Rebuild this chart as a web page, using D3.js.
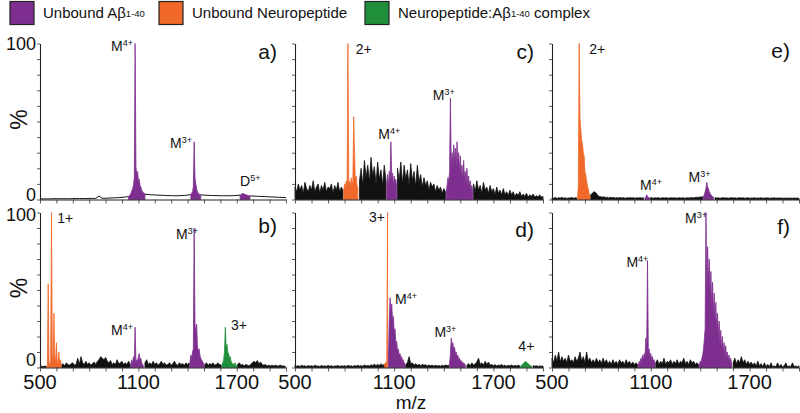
<!DOCTYPE html>
<html><head><meta charset="utf-8">
<script src="https://cdn.jsdelivr.net/npm/d3@7"></script>
<style>
body{margin:0;background:#fff}
svg{display:block}
text{font-family:"Liberation Sans",Arial,sans-serif;fill:#111}
</style>
</head><body>
<svg id="chart" width="800" height="413"></svg>
<script>
// ---------------- DATA ----------------
const mzDomain = [500, 2000];
const pctDomain = [0, 100];
const mzTicks = [500,600,700,800,900,1000,1100,1200,1300,1400,1500,1600,1700,1800,1900,2000];
const mzTickLabels = [500, 1100, 1700];
const pctTicks = [0,10,20,30,40,50,60,70,80,90,100];
const pctTickLabels = [0, 100];
const xAxisTitle = "m/z";
const yAxisTitle = "%";

const legendItems = [
  {kind: "abeta",   main: "Unbound A\u03B2", sub: "1-40", rest: ""},
  {kind: "neuro",   main: "Unbound Neuropeptide", sub: "", rest: ""},
  {kind: "complex", main: "Neuropeptide:A\u03B2", sub: "1-40", rest: " complex"}
];

// spectra: segments {kind, from (m/z), step (m/z), vals (% intensity)}
const panelA = [
  {kind:"bg", from:500, step:20, vals:[0.4,0.4,0.4,0.4,0.5,0.5,0.5,0.5,0.5,0.5,0.6,0.6,0.6,0.6,0.6,0.7,0.7,0.7,2.2,0.8,0.8,0.9,1.0,1.1,1.2,1.4,1.6,1.9]},
  {kind:"abeta", from:1040, step:5, vals:[2,2.5,3,4,5.5,7,9,14,100,21,16,18,12,13,9,8,6,5,4.5,4,3.6]},
  {kind:"bg", from:1140, step:20, vals:[3.4,3.2,3.0,2.9,2.8,2.7,2.6,2.5,2.5,2.4,2.4,2.5,2.6,2.8,3.2]},
  {kind:"abeta", from:1420, step:5, vals:[3.5,4,5,8,37,14,10,7,5,4,3.5,3.2,3.0]},
  {kind:"bg", from:1480, step:20, vals:[3.0,2.8,2.7,2.6,2.5,2.5,2.4,2.4,2.4,2.4,2.5,2.6,2.8]},
  {kind:"abeta", from:1720, step:5, vals:[2.8,3.2,3.6,3.8,3.7,3.5,3.3,3.1,2.9,2.7,2.5,2.4,2.3]},
  {kind:"bg", from:1780, step:20, vals:[2.3,2.2,2.1,2.0,1.9,1.8,1.7,1.6,1.5,1.4,1.3,1.3]}
];
const panelB = [
  {kind:"bg", from:500, step:10, vals:[0.5,0.8,0.6,0.9,0.7]},
  {kind:"neuro", from:540, step:5, vals:[0.5,1,54,2,3,4,100,8,5,35,6,4,16,4,3,10,2,5,1]},
  {kind:"bg", from:630, step:10, vals:[1.5,2.5,1,3,2,1.5,2.5,3,1.5,2,6,2,7,3,2,4,2,3,1.5,2.5,3.5,2,4,5,7,6,5,6.5,4,3,4.5,2,3,2,5,2.5,3,4,2,3,2,4,2]},
  {kind:"abeta", from:1055, step:5, vals:[3,5,2,7,4,26,3,5,4,7,9,4,6,3,2,1.5]},
  {kind:"bg", from:1140, step:10, vals:[3,5,2,3,2,4,2,3,1.5,2.5,4,2,3,1.5,2,3,1.5,2.5,4,2,1.5,3,2,2.5,1.5,3,2,3]},
  {kind:"abeta", from:1415, step:5, vals:[4,8,6,10,12,90,28,22,28,14,10,12,8,6,5,4,3,2]},
  {kind:"bg", from:1505, step:10, vals:[2,3,1.5,2.5,2,3,1.5,2,3,2,1.5]},
  {kind:"complex", from:1610, step:5, vals:[2,3,5,10,26,13,15,10,9,6,7,4,3,2,2.5,1.5,3,1.5,1]},
  {kind:"bg", from:1705, step:10, vals:[2,3,1.5,2,1,2,1.5,1,2,3,4,3,4.5,2.5,3.5,2,1.5,2,1,1.5,1,1.5,1,1.5,1,1,1.5,1,1,0.8]}
];
const panelC = [
  {kind:"bg", from:500, step:10, vals:[8,5,10,6,9,4,11,7,5,9,6,12,5,8,10,4,9,6,11,5,8,7,10,4,9,6,11,5,8,6]},
  {kind:"neuro", from:795, step:5, vals:[6,10,8,12,9,100,10,12,8,14,10,12,53,30,12,15,9,7]},
  {kind:"bg", from:890, step:10, vals:[12,20,9,25,14,22,11,27,15,21,10,24,13,19,9,22,12]},
  {kind:"abeta", from:1055, step:5, vals:[10,16,8,18,12,37,14,17,9,15,11,13,8]},
  {kind:"bg", from:1120, step:10, vals:[20,12,24,10,22,13,19,9,23,12,18,8,22,11,16,8,14,9,12,6,11,8,10,5,9,6,8,4,7,5]},
  {kind:"abeta", from:1415, step:5, vals:[5,9,14,11,18,65,20,30,22,35,25,33,20,37,24,30,18,28,15,22,12,25,14,18,10,20,9,15,8,12,6,9,5]},
  {kind:"bg", from:1580, step:10, vals:[10,5,12,6,9,4,11,6,8,4,9,5,7,3,8,4,6,3,7,3,5,2.5,6,3,5,2,4,2.5,5,2,3.5,2,4,1.5,3,2,3.5,1.5,2.5,1.5,3,1.5,2]}
];
const panelD = [
  {kind:"bg", from:500, step:10, vals:[1.5,0.8,1.2,0.7,1.4,0.9,1.1,0.6,1.3,0.8,1.2,0.7,1.5,0.9,1.0,0.6,1.3,0.8,1.1,0.7,1.4,0.8,1.2,0.6,1.0,0.9,1.3,0.7,1.1,0.8,1.2,0.7,1.4,0.9,1.1,0.6,1.3,0.8,1.5,0.9,1.2,0.8,1.6,1.0,1.3,0.9,1.8,1.1,2.2,1.2,2.0,1.3,2.5,1.5,2.0,1.5]},
  {kind:"neuro", from:1040, step:5, vals:[1.5,2.5,3.5,3,100]},
  {kind:"abeta", from:1065, step:5, vals:[6,30,45,36,41,30,33,22,25,15,17,10,12,8,9,6,7,4.5,5,3,2.5]},
  {kind:"bg", from:1170, step:10, vals:[2,3,7,2.5,3,1.5,2.5,1.5,2,1.2,2,1.5,1.8,1,1.6,1.2,1.5,0.9,1.4,1,1.3,0.8,1.5,1,1.6,1.2,1.5]},
  {kind:"abeta", from:1435, step:5, vals:[3,8,19,14,16,11,13,9,10,7,8,5,6,4,4.5,3,3.5,2.5,2.5,1.5]},
  {kind:"bg", from:1540, step:10, vals:[1.5,2.5,1.2,3,1.5,2.5,3.5,6,2,3,1.5,4,2,3.5,1.5,2,1.2,1.8,1,1.6,1.2,2,1,1.5,0.8,1.4,1,1.6,0.9,1.3,1,1.5,1]},
  {kind:"complex", from:1865, step:5, vals:[1,1.5,2,2.5,3,3.5,3.8,3.5,3,2.5,2,1.5,1.2,1]},
  {kind:"bg", from:1940, step:10, vals:[1.2,0.8,1.1,0.7,1.0,0.8,1.0]}
];
const panelE = [
  {kind:"bg", from:500, step:10, vals:[1.2,0.8,1.3,0.7,1.1,0.9,1.4,0.8,1.2,0.7,1.0,0.9,1.3,0.8,1.1,1.0]},
  {kind:"neuro", from:655, step:5, vals:[2,8,100,52,45,38,36,30,28,18,16,12,9,7,4,2.5]},
  {kind:"bg", from:735, step:10, vals:[3,4,5,4.5,3,2,1.8,1.5,1.8,1.2,1.5,1,1.4,1.1,1.3,0.9,1.2,1,1.3,0.9,1.2,0.8,1.1,1,1.3,0.9,1.2,0.8,1.1,1,1.2,0.9,1.1]},
  {kind:"abeta", from:1065, step:5, vals:[1.2,1.8,3,2,1.5,1.2]},
  {kind:"bg", from:1095, step:10, vals:[1.0,1.2,0.8,1.1,0.9,1.2,0.8,1.0,1.1,0.9,1.2,0.8,1.0,1.1,0.9,1.2,0.8,1.0,1.1,0.9,1.2,0.8,1.0,1.1,0.9,1.3,1.0,1.2,1.4,1.3,1.5,1.6,1.8]},
  {kind:"abeta", from:1420, step:5, vals:[2,3,5,7,11,8,7,5,4,3,2.5,2,1.5]},
  {kind:"bg", from:1490, step:10, vals:[1.2,0.9,1.1,0.8,1.0,1.2,0.9,1.1,0.8,1.0,1.2,0.9,1.1,0.8,1.0,1.2,0.9,1.1,0.8,1.0,1.1,0.8,1.0,0.9,1.1,0.8,1.0,0.9,1.1,0.8,1.0,0.9,1.1,0.8,1.0,0.9,1.1,0.8,1.0,0.9,1.0,0.8,0.9,0.8,1.0,0.8,0.9,0.8,1.0,0.8,0.9,0.8]}
];
const panelF = [
  {kind:"bg", from:500, step:10, vals:[6,3,8,4,10,3.5,7,4,6,3,8,4,5,3,7,4,6,10,4,7,3,10,4,6,3,5,3,6,3,5,2.5,6,3,5,2.5,4,2,5,2.5,4,2,5,3,4,2,5,2.5,4,2,3.5,2,3,2]},
  {kind:"abeta", from:1025, step:5, vals:[2,4,3,6,4,8,5,9,7,19,12,69,10,12,7,9,5,7,4,5,3]},
  {kind:"bg", from:1130, step:10, vals:[3,5,2,4,2.5,6,2,4,3,5,2,4,2.5,5,2,4,3,6,2.5,4,2,5,3,4,2,3,2]},
  {kind:"abeta", from:1395, step:5, vals:[2,4,3,6,8,12,18,25,100,45,78,55,70,48,62,40,55,35,48,30,42,25,35,20,30,16,24,12,20,10,16,8,14,6,10,5,8,4,6,3]},
  {kind:"bg", from:1600, step:10, vals:[3,6,2.5,5,3,7,3,5,2,4,2,3.5,1.5,3,1,4,1,2.5,0.5,3,0.5,2,0.5,3,0.5,1,0.5,3,0.5,2,0.5,1,3,0.5,1,0.5,3,0.5,1,0.5,1]}
];

// peak annotations: [main, superscript, m/z anchor, % level, anchor]
const labelsA = [["M","4+",1067,95,"end"],["M","3+",1427,33,"end"],["D","5+",1720,8.6,"start"]];
const labelsB = [["1+","",605,93,"start"],["M","4+",1067,21,"end"],["M","3+",1463,83,"end"],["3+","",1665,24,"start"]];
const labelsC = [["2+","",867,93,"start"],["M","4+",1004,38.5,"start"],["M","3+",1333,64,"start"]];
const labelsD = [["3+","",1044,93.6,"end"],["M","4+",1105,41,"start"],["M","3+",1343,20,"start"],["4+","",1851,10.6,"start"]];
const labelsE = [["2+","",726,93,"start"],["M","4+",1035,6.4,"start"],["M","3+",1329,11,"start"]];
const labelsF = [["M","4+",1085,65,"end"],["M","3+",1441,93,"end"]];

const panelLetters = ["a)","b)","c)","d)","e)","f)"];
const letterLevels = [90, 87, 90, 84, 91, 86];

// ---------------- LAYOUT / STYLE ----------------
const colors = {abeta:"#7d2e8e", neuro:"#f0692b", complex:"#1f8f3c", bg:"#111111"};
const cols = [[40,286],[295,543],[552,799]];
const rows = [[199.5,43.5],[367.5,212.5]];
const frames = [
  {data:panelA, labels:labelsA, col:0, row:0, bgLine:true},
  {data:panelB, labels:labelsB, col:0, row:1},
  {data:panelC, labels:labelsC, col:1, row:0},
  {data:panelD, labels:labelsD, col:1, row:1},
  {data:panelE, labels:labelsE, col:2, row:0},
  {data:panelF, labels:labelsF, col:2, row:1}
];
const drawOrder = {bg:0, neuro:1, abeta:2, complex:3};

const svg = d3.select("#chart");

frames.forEach((f, fi) => {
  const [x0, x1] = cols[f.col];
  const [y0, y1] = rows[f.row];
  const x = d3.scaleLinear().domain(mzDomain).range([x0, x1]);
  const y = d3.scaleLinear().domain(pctDomain).range([y0, y1]);
  const g = svg.append("g");

  const segs = f.data.slice().sort((a, b) => drawOrder[a.kind] - drawOrder[b.kind]);
  segs.forEach(seg => {
    const pts = seg.vals.map((v, i) => ({mz: seg.from + i * seg.step, v}));
    if (seg.kind === "bg" && f.bgLine) {
      g.append("path").datum(pts)
        .attr("d", d3.line().x(d => x(d.mz)).y(d => y(d.v)))
        .attr("fill", "none").attr("stroke", colors.bg).attr("stroke-width", 1);
    } else {
      g.append("path").datum(pts)
        .attr("d", d3.area().x(d => x(d.mz)).y0(y(0)).y1(d => y(d.v)))
        .attr("fill", colors[seg.kind]).attr("stroke", colors[seg.kind])
        .attr("stroke-width", 0.8).attr("stroke-linejoin", "miter");
    }
  });

  // axes
  const xa = g.append("g").attr("transform", `translate(0,${y0})`)
    .call(d3.axisBottom(x).tickValues(mzTicks).tickSize(4).tickSizeOuter(0).tickFormat(""));
  const ya = g.append("g").attr("transform", `translate(${x0},0)`)
    .call(d3.axisLeft(y).tickValues(pctTicks).tickSize(3).tickSizeOuter(0).tickFormat(""));
  [xa, ya].forEach(a => {
    a.select(".domain").attr("stroke", "#222").attr("stroke-width", 1.1);
    a.selectAll(".tick line").attr("stroke", "#333").attr("stroke-width", 0.8);
  });

  // x tick labels (bottom row)
  if (f.row === 1) {
    mzTickLabels.forEach(t => {
      g.append("text")
        .attr("x", x(t)).attr("y", 388.5)
        .attr("text-anchor", "middle").attr("font-size", 20).text(t);
    });
  }
  // y tick labels & title (left column)
  if (f.col === 0) {
    pctTickLabels.forEach(t => {
      const off = t === 0 ? (f.row === 1 ? -7.5 : -5) : (f.row === 1 ? 2.5 : 0);
      g.append("text")
        .attr("x", x0 - 4).attr("y", y(t) + off)
        .attr("text-anchor", "end").attr("dominant-baseline", "central")
        .attr("font-size", 18).text(t);
    });
    g.append("text")
      .attr("transform", `translate(19,${(y0 + y1) / 2 - 2}) rotate(-90)`)
      .attr("text-anchor", "middle").attr("dominant-baseline", "central")
      .attr("font-size", 23).text(yAxisTitle);
  }

  // peak labels
  f.labels.forEach(l => {
    const t = g.append("text").attr("x", x(l[2])).attr("y", y(l[3]))
      .attr("text-anchor", l[4]).attr("font-size", 14);
    t.append("tspan").text(l[0]);
    if (l[1]) t.append("tspan").attr("font-size", 9).attr("dy", -5).text(l[1]);
  });

  // panel letter
  g.append("text").attr("x", x1 - 9).attr("y", y(letterLevels[fi]))
    .attr("text-anchor", "end").attr("font-size", 21).text(panelLetters[fi]);
});

// x axis title
svg.append("text").attr("x", 411).attr("y", 408.5)
  .attr("text-anchor", "middle").attr("font-size", 19).text(xAxisTitle);

// legend
const legendX = [10, 159, 365];
legendItems.forEach((it, i) => {
  const lx = legendX[i];
  svg.append("rect").attr("x", lx).attr("y", 1.5).attr("width", 24).attr("height", 23)
    .attr("fill", colors[it.kind]).attr("stroke", "#222").attr("stroke-width", 1.2);
  const t = svg.append("text").attr("x", lx + 33).attr("y", 18).attr("font-size", 15);
  t.append("tspan").text(it.main);
  if (it.sub) t.append("tspan").attr("font-size", 9.5).attr("dy", -1).text(it.sub);
  if (it.rest) t.append("tspan").attr("dy", 1).text(it.rest);
});
</script>
</body></html>
